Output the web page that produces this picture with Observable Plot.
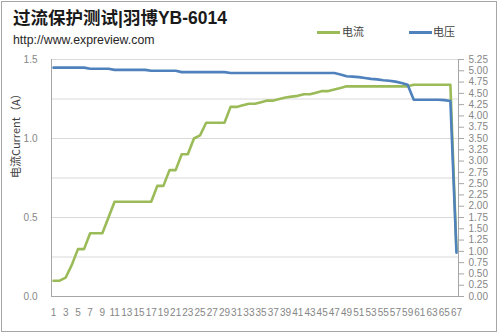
<!DOCTYPE html>
<html><head><meta charset="utf-8">
<script src="https://cdn.jsdelivr.net/npm/d3@7"></script>
<script src="https://cdn.jsdelivr.net/npm/@observablehq/plot@0.6"></script>
<style>
body{margin:0;background:#fff;}
#wrap{position:relative;width:500px;height:334px;overflow:hidden;font-family:"Liberation Sans",Arial,"Noto Sans CJK SC",sans-serif;}
#border{position:absolute;left:1px;top:1px;width:496px;height:331px;border:1px solid #a6a6a6;box-sizing:border-box;pointer-events:none}
#chart{position:absolute;left:0;top:0}
.t{position:absolute;white-space:nowrap;line-height:1}
#title{left:13px;top:10px;font-size:17.5px;font-weight:bold;color:#1a1a1a}
#sub{left:13px;top:34px;font-size:12.3px;color:#262626}
.lg{position:absolute;height:3px;top:31px}
.lt{position:absolute;top:26px;font-size:11px;color:#404040;font-family:"Noto Sans CJK SC",sans-serif;line-height:1}
</style></head>
<body>
<div id="wrap">
  <div id="chart"></div>
  <div id="title" class="t">过流保护测试|羽博YB-6014</div>
  <div id="sub" class="t">http://www.expreview.com</div>
  <div class="lg" style="left:317px;width:23px;background:#9BBB59"></div>
  <div class="lt" style="left:342px">电流</div>
  <div class="lg" style="left:409px;width:23px;background:#4F81BD"></div>
  <div class="lt" style="left:433px">电压</div>
  <div id="border"></div>
</div>
<script>
const categories = [1,2,3,4,5,6,7,8,9,10,11,12,13,14,15,16,17,18,19,20,21,22,23,24,25,26,27,28,29,30,31,32,33,34,35,36,37,38,39,40,41,42,43,44,45,46,47,48,49,50,51,52,53,54,55,56,57,58,59,60,61,62,63,64,65,66,67];
const current = [0.1,0.1,0.12,0.2,0.3,0.3,0.4,0.4,0.4,0.5,
  0.6,0.6,0.6,0.6,0.6,0.6,0.6,0.7,0.7,0.8,
  0.8,0.9,0.9,1.0,1.02,1.1,1.1,1.1,1.1,1.2,
  1.2,1.21,1.22,1.22,1.23,1.24,1.24,1.25,1.26,1.265,
  1.27,1.28,1.28,1.29,1.30,1.30,1.31,1.32,1.33,1.33,
  1.33,1.33,1.33,1.33,1.33,1.33,1.33,1.33,1.33,1.34,
  1.34,1.34,1.34,1.34,1.34,1.34,0.29];
const voltage = [5.07,5.07,5.07,5.07,5.07,5.07,5.045,5.045,5.045,5.045,
  5.02,5.02,5.02,5.02,5.02,5.02,5.0,5.0,5.0,5.0,
  5.0,4.97,4.97,4.97,4.97,4.97,4.97,4.97,4.97,4.95,
  4.95,4.95,4.95,4.95,4.95,4.95,4.95,4.95,4.95,4.95,
  4.95,4.95,4.95,4.95,4.95,4.95,4.95,4.92,4.88,4.87,
  4.86,4.84,4.82,4.81,4.79,4.78,4.76,4.73,4.69,4.36,
  4.36,4.36,4.36,4.36,4.35,4.33,0.97];
const currentTicks = [0, 0.5, 1.0, 1.5];
const currentGrid = [0.25, 0.5, 0.75, 1.0, 1.25, 1.5];
const voltageTicks = [0,0.25,0.5,0.75,1,1.25,1.5,1.75,2,2.25,2.5,2.75,3,3.25,3.5,3.75,4,4.25,4.5,4.75,5,5.25];
const xTickLabels = categories.filter(d => d % 2 === 1);
const voltMax = 5.25, currMax = 1.5, ratio = voltMax / currMax;

const cData = categories.map((c, i) => ({c, v: current[i]}));
const vData = categories.map((c, i) => ({c, v: voltage[i] / ratio}));

const font = "'Liberation Sans', Arial, sans-serif";
const chart = Plot.plot({
  width: 500, height: 334,
  marginLeft: 51, marginRight: 42, marginTop: 59, marginBottom: 38,
  x: {domain: [0.67, 67.33], axis: null, label: null},
  y: {domain: [0, currMax], axis: null, label: null},
  style: {fontFamily: font, background: "transparent", overflow: "visible"},
  marks: [
    Plot.gridY(currentGrid, {stroke: "#d9d9d9", strokeOpacity: 1, strokeWidth: 1}),
    Plot.frame({anchor: "left", stroke: "#a6a6a6"}),
    Plot.frame({anchor: "right", stroke: "#a6a6a6"}),
    Plot.frame({anchor: "bottom", stroke: "#a6a6a6"}),
    Plot.axisY(currentTicks, {anchor: "left", label: null, tickSize: 0, tickPadding: 14, tickFormat: d => d.toFixed(1), color: "#868686", fontSize: 10}),
    Plot.axisY(voltageTicks.map(v => v / ratio), {anchor: "right", label: null, tickSize: 5, tickPadding: 5, tickFormat: d => (d * ratio).toFixed(2), color: "#868686", stroke: "#a6a6a6", fontSize: 10}),
    Plot.axisX(xTickLabels, {anchor: "bottom", label: null, tickSize: 0, tickPadding: 12, color: "#868686", fontSize: 10}),
    Plot.text(["电流Current（A）"], {frameAnchor: "left", dx: -35, rotate: -90, fontSize: 11, fill: "#404040", fontFamily: "'Noto Sans CJK SC', sans-serif"}),
    Plot.line(cData, {x: "c", y: "v", stroke: "#9BBB59", strokeWidth: 2.6, strokeLinejoin: "round"}),
    Plot.line(vData, {x: "c", y: "v", stroke: "#4F81BD", strokeWidth: 2.6, strokeLinejoin: "round"})
  ]
});
document.getElementById("chart").appendChild(chart);
</script>
</body></html>
